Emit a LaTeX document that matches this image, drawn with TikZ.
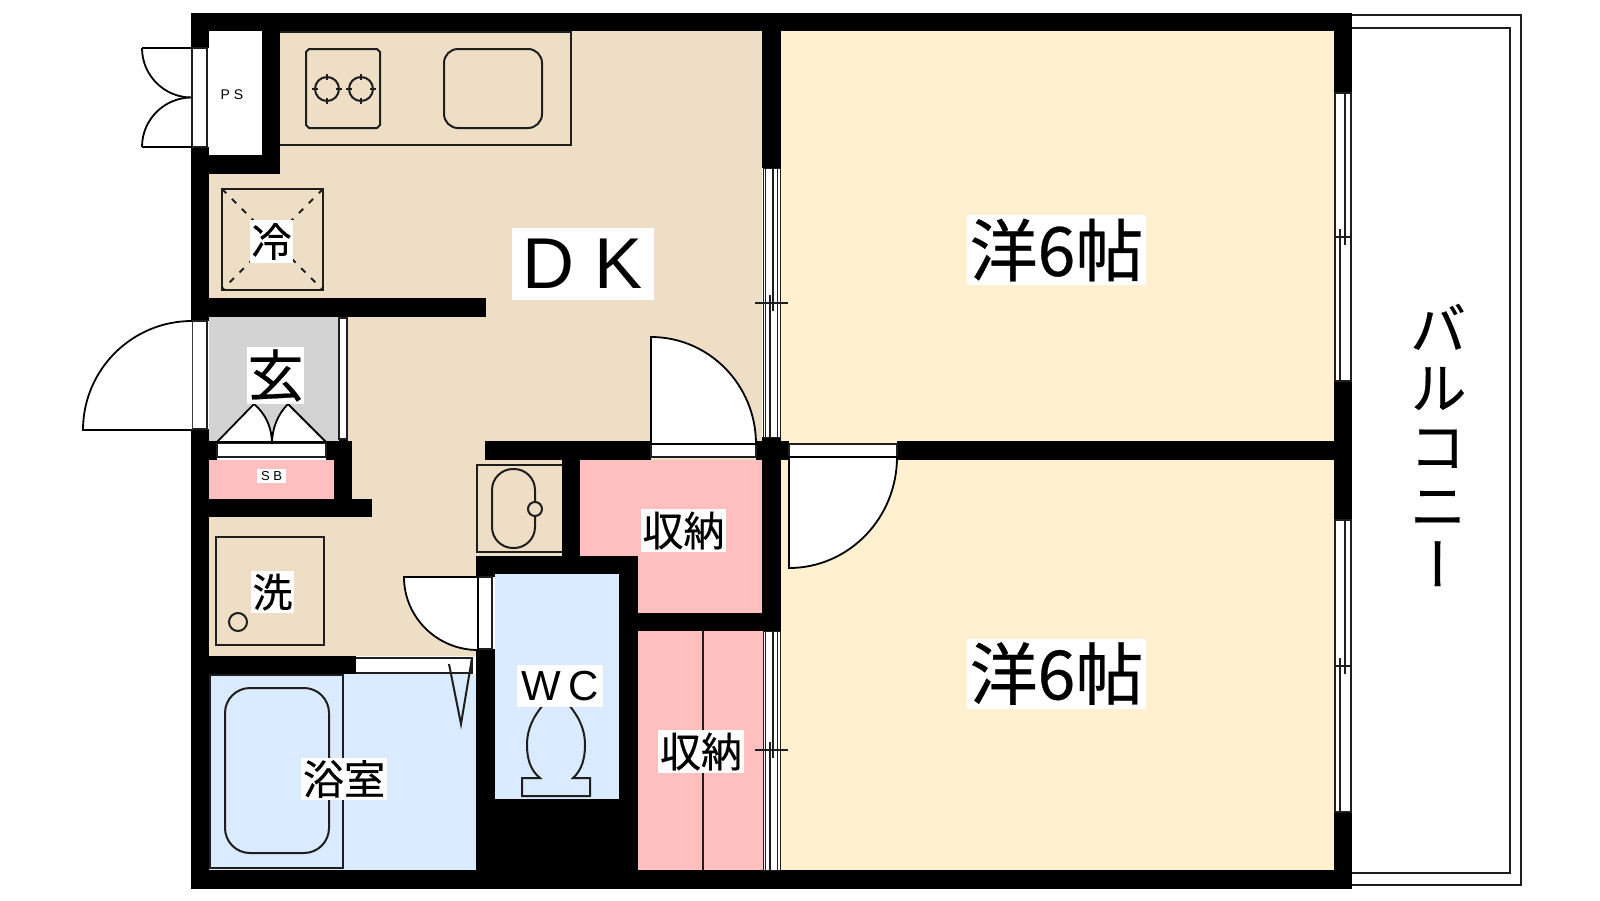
\documentclass[tikz,border=0pt]{standalone}
\usepackage{fontspec}
\setmainfont[FakeBold=0.4]{Noto Sans CJK JP}
\newfontfamily\latinfont{Liberation Sans}
\newfontfamily\verticalfont[RawFeature=+vert, FakeBold=0.4]{Noto Sans CJK JP}
\definecolor{kitchenColor}{RGB}{238, 222, 197}
\definecolor{roomColor}{RGB}{255, 240, 208}
\definecolor{storageColor}{RGB}{255, 191, 191}
\definecolor{wetColor}{RGB}{218, 235, 255}
\definecolor{entryColor}{RGB}{211, 211, 211}
\definecolor{lineColor}{RGB}{30, 30, 30}
\tikzstyle{wall} = [fill=black]
\tikzstyle{fixture} = [draw=lineColor, line width=2pt]
\tikzstyle{thinline} = [draw=lineColor, line width=1.4pt]
\tikzstyle{hairline} = [draw=lineColor, line width=0.9pt]
\tikzstyle{door} = [draw=black, fill=white, line width=1.8pt]
\tikzstyle{frame} = [draw=lineColor, fill=white, line width=1.5pt]
\tikzstyle{roomlabel} = [fill=white, inner sep=0pt, text=black]
\begin{document}
\begin{tikzpicture}[x=1pt, y=-1pt]
	\useasboundingbox (0,0) rectangle (1600,900);

	\fill[kitchenColor] (209,31) -- (762,31) -- (762,460) -- (580,460) -- (580,556) -- (476,556) -- (476,656) -- (209,656) -- cycle;
	\fill[roomColor] (781,31) rectangle (1334,870);
	\fill[entryColor] (209,317) rectangle (338,441);
	\fill[storageColor] (209,460) rectangle (334,499);
	\fill[storageColor] (580,460) -- (762,460) -- (762,613) -- (638,613) -- (638,556) -- (580,556) -- cycle;
	\fill[storageColor] (638,631) rectangle (763,870);
	\fill[wetColor] (209,674) rectangle (476,870);
	\fill[wetColor] (495,574) rectangle (619,799);
	\fill[white] (209,31) rectangle (262,155);

	\draw[frame] (1352,15) -- (1521,15) -- (1521,885) -- (1352,885);
	\draw[frame] (1352,28) -- (1510,28) -- (1510,873) -- (1352,873);

	\foreach \xa/\ya/\xb/\yb in {191/13/1352/31, 191/870/1352/889, 191/13/209/889, 262/31/280/174,
		209/155/280/174, 209/298/486/317, 337/441/352/499, 334/460/352/499, 339/439/348/441, 209/441/217/460, 326/441/337/460,
		209/499/372/517, 485/441/651/460, 562/460/580/556, 476/556/638/574, 476/574/495/870,
		476/799/638/870, 619/556/638/870, 619/613/781/631, 762/13/781/168, 762/437/781/631,
		756/441/789/460, 897/441/1340/460, 1334/13/1352/93, 1334/381/1352/520, 1334/812/1352/889,
		191/656/356/674}
		\fill[wall] (\xa,\ya) rectangle (\xb,\yb);

	\foreach \ya/\yb/\ytick in {168/437/303, 631/870/750} {
		\draw[frame, line width=1pt] (763,\ya) rectangle (780,\yb);
		\draw[hairline] (765.5,\ya) -- (765.5,\yb);
		\draw[hairline] (777.5,\ya) -- (777.5,\yb);
		\draw[thinline] (773,\ya) -- (773,\ytick+8);
		\draw[thinline] (770,\ytick-8) -- (770,\yb);
		\draw[fixture] (755,\ytick) -- (788,\ytick);
	}
	\foreach \ya/\yb/\ytick in {93/381/237, 520/812/666} {
		\draw[frame] (1335,\ya) rectangle (1351,\yb);
		\draw[thinline] (1345,\ya) -- (1345,\ytick+8);
		\draw[thinline] (1340,\ytick-8) -- (1340,\yb);
		\draw[thinline] (1335,\ytick) -- (1351,\ytick);
	}

	\fill[white] (191,48) rectangle (209,147);
	\draw[frame] (192,48) rectangle (207,147);
	\fill[white] (191,321) rectangle (209,429);
	\draw[frame] (192,321) rectangle (207,429);
	\draw[frame] (339,318) rectangle (347,439);
	\fill[white] (217,441) rectangle (326,460);
	\draw[frame] (217,443) rectangle (326,457);
	\fill[white] (356,657) rectangle (476,674);
	\draw[frame] (356,658) -- (472,658) -- (472,673) -- (356,673);
	\fill[white] (476,577) rectangle (495,649);
	\draw[frame] (478,577) rectangle (492,649);
	\draw[frame] (651,444) rectangle (756,457);
	\draw[frame] (789,444) rectangle (897,457);

	\draw[door] (142,48) arc[start angle=180, end angle=90, radius=49.5];
	\draw[door] (142,147) arc[start angle=180, end angle=270, radius=49.5];
	\draw[door] (142,48) -- (192,48);
	\draw[door] (142,147) -- (192,147);
	\draw[door] (192,321) arc[start angle=270, end angle=180, radius=109] -- (192,430);
	\draw[door] (651,444) -- (651,337) arc[start angle=270, end angle=360, x radius=105, y radius=107] -- cycle;
	\draw[door] (789,457) -- (789,568) arc[start angle=90, end angle=0, x radius=108, y radius=111] -- cycle;
	\draw[door] (478,577) -- (404,577) arc[start angle=180, end angle=90, x radius=74, y radius=73] -- cycle;
	\draw[door] (217,442) -- (254,404) .. controls (266,414) and (272,428) .. (272,444) .. controls (272,428) and (278,414) .. (288,404) -- (326,442) -- cycle;
	\draw[fixture] (449,664) -- (461,724) -- (472,658);

	\draw[thinline] (280,32) -- (571,32) -- (571,145) -- (280,145);
	\draw[fixture] (309,49) -- (377,49) -- (380,52) -- (380,125) -- (377,128) -- (309,128) -- (306,125) -- (306,52) -- cycle;
	\foreach \xb in {327,361} {
		\draw[fixture] (\xb,89) circle[radius=12];
		\draw[fixture] (\xb-15,89) -- (\xb-9,89);
		\draw[fixture] (\xb+9,89) -- (\xb+15,89);
		\draw[fixture] (\xb,74) -- (\xb,80);
		\draw[fixture] (\xb,98) -- (\xb,104);
	}
	\draw[fixture, rounded corners=14pt] (444,49) rectangle (542,128);

	\draw[fixture] (222,189) rectangle (323,290);
	\draw[fixture, dash pattern=on 6pt off 8pt] (222,189) -- (323,290);
	\draw[fixture, dash pattern=on 6pt off 8pt] (323,189) -- (222,290);

	\draw[fixture] (216,537) rectangle (324,645);
	\draw[fixture] (238,622) circle[radius=9];

	\draw[thinline] (562,465) -- (477,465) -- (477,552) -- (562,552);
	\draw[fixture, rounded corners=21pt] (492,469) rectangle (535,548);
	\draw[fixture, fill=kitchenColor] (535,509) circle[radius=7];

	\draw[thinline] (210,675) rectangle (343,868);
	\draw[fixture, rounded corners=25pt] (225,688) rectangle (329,853);

	\draw[fixture] (543,705) .. controls (534,716) and (527,728) .. (527,745) .. controls (527,758) and (530,770) .. (540,778)
		-- (522,778) -- (522,796) -- (590,796) -- (590,778) -- (573,778)
		.. controls (582,770) and (585,758) .. (585,745) .. controls (585,728) and (578,716) .. (569,705);

	\draw[thinline] (703,631) -- (703,870);

	\node (ps) at (232,95) {\latinfont\fontsize{14}{14}\selectfont P S};
	\node (sb) [roomlabel, minimum width=29pt, minimum height=14pt] at (271.5,476) {\latinfont\fontsize{13}{13}\selectfont S B};
	\node (reizo) [roomlabel, minimum width=43pt, minimum height=43pt] at (271.5,241.5) {\fontsize{40}{40}\selectfont 冷};
	\node (dk) [roomlabel, minimum width=142pt, minimum height=72pt] at (583,264) {\latinfont\fontsize{72}{72}\selectfont\spaceskip=20pt\relax D K};
	\node (genkan) [roomlabel, minimum width=57pt, minimum height=57pt] at (275.5,375.5) {\fontsize{56}{56}\selectfont 玄};
	\node (sentaku) [roomlabel, minimum width=43pt, minimum height=42pt] at (272.5,592) {\fontsize{40}{40}\selectfont 洗};
	\node (yoku) [roomlabel, minimum width=86pt, minimum height=42pt] at (344,779) {\fontsize{41}{41}\selectfont 浴室};
	\node (wc) [roomlabel, minimum width=86pt, minimum height=42pt] at (560,686) {\latinfont\fontsize{42}{42}\selectfont\spaceskip=8pt\relax W C};
	\node (shuno1) [roomlabel, minimum width=85pt, minimum height=43pt] at (683.5,530.5) {\fontsize{41}{41}\selectfont 収納};
	\node (shuno2) [roomlabel, minimum width=86pt, minimum height=43pt] at (701,751.5) {\fontsize{41}{41}\selectfont 収納};
	\node (room1) [roomlabel, minimum width=179pt, minimum height=70pt] at (1056.5,250) {\fontsize{68}{68}\selectfont 洋6帖};
	\node (room2) [roomlabel, minimum width=179pt, minimum height=70pt] at (1056.5,673.5) {\fontsize{68}{68}\selectfont 洋6帖};
	\node (balcony) [align=center, inner sep=0pt, font=\verticalfont\fontsize{57}{59}\selectfont] at (1438,445) {バ\\ル\\コ\\ニ\\ー};
\end{tikzpicture}
\end{document}
